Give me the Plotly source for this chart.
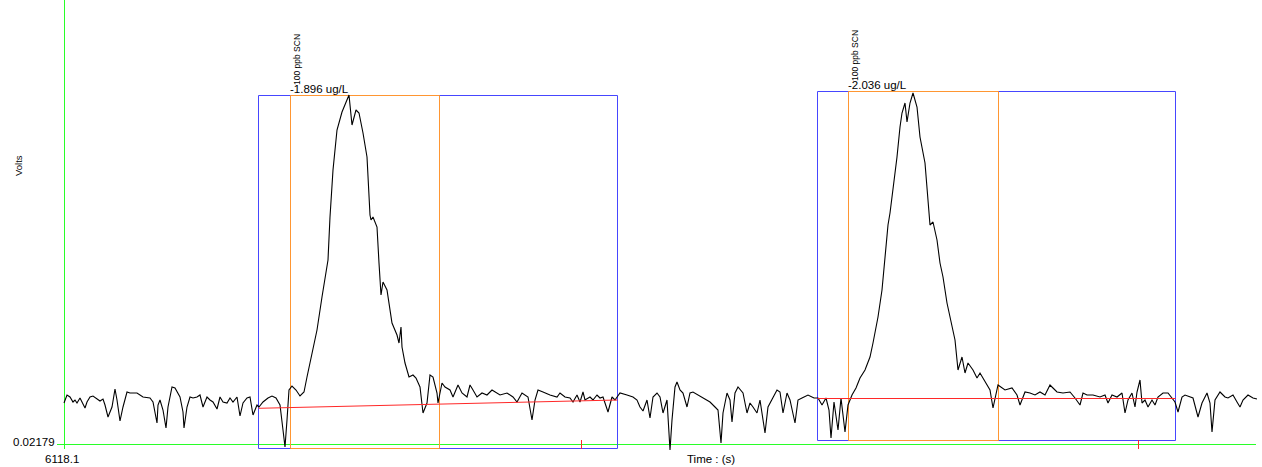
import plotly.graph_objects as go

# ---------------- data ----------------
T0 = 6118.1          # time at the left end of the axis (s)
V0 = 0.02179         # volts at the bottom of the axis

# elapsed time (s, from T0) and detector signal (uV above V0)
time_s = [
    0, 3, 6, 9, 11, 13, 16, 18, 21, 23,
    26, 29, 33, 36, 39, 41, 44, 48, 51, 53,
    56, 59, 63, 66, 73, 79, 86, 89, 93, 94,
    96, 99, 102, 104, 108, 111, 116, 119, 120, 123,
    126, 129, 133, 136, 139, 143, 146, 149, 153, 156,
    159, 163, 166, 169, 173, 176, 179, 183, 186, 189,
    191, 193, 195, 199, 204, 208, 212, 216, 219, 221,
    223, 225, 228, 232, 236, 240, 243, 248, 253, 258,
    264, 266, 269, 273, 278, 285, 288, 292, 295, 299,
    303, 306, 307, 309, 313, 315, 317, 319, 323, 328,
    333, 335, 337, 338, 341, 345, 349, 352, 356, 359,
    363, 366, 369, 373, 374, 378, 381, 386, 389, 394,
    398, 403, 406, 409, 413, 418, 423, 428, 433, 436,
    443, 449, 453, 458, 464, 468, 471, 474, 479, 486,
    493, 496, 501, 506, 509, 513, 516, 519, 521, 526,
    529, 533, 536, 539, 544, 548, 551, 556, 563, 569,
    573, 576, 579, 583, 586, 589, 593, 596, 599, 603,
    606, 608, 611, 613, 616, 619, 623, 626, 629, 634,
    639, 646, 651, 654, 657, 659, 663, 666, 668, 671,
    674, 679, 683, 686, 689, 693, 696, 701, 704, 708,
    713, 716, 719, 723, 726, 731, 734, 738, 744, 750,
    754, 758, 762, 765, 767, 770, 774, 777, 781, 784,
    788, 792, 796, 801, 806, 809, 814, 818, 821, 824,
    826, 829, 833, 836, 838, 841, 843, 846, 849, 853,
    856, 861, 864, 866, 869, 871, 873, 876, 879, 883,
    888, 891, 894, 898, 901, 904, 909, 913, 916, 921,
    926, 929, 934, 941, 948, 953, 956, 961, 966, 971,
    976, 981, 986, 989, 993, 999, 1006, 1011, 1016, 1019,
    1023, 1029, 1036, 1041, 1044, 1048, 1053, 1058, 1061, 1064,
    1068, 1071, 1073, 1076, 1078, 1081, 1084, 1088, 1091, 1094,
    1099, 1104, 1108, 1111, 1114, 1118, 1121, 1126, 1129, 1134,
    1138, 1143, 1146, 1148, 1151, 1156, 1161, 1164, 1169, 1173,
    1176, 1179, 1184, 1189, 1193,
]
signal_uv = [
    41, 49, 47, 42, 44, 41, 46, 42, 36, 42,
    47, 48, 45, 43, 45, 39, 27, 37, 55, 44,
    23, 37, 52, 51, 51, 47, 46, 42, 21, 39,
    44, 34, 16, 37, 57, 56, 47, 32, 16, 37,
    47, 46, 47, 49, 37, 47, 44, 42, 35, 47,
    42, 41, 46, 42, 47, 28, 41, 46, 47, 29,
    34, 39, 37, 42, 46, 48, 46, 39, 14, -3,
    24, 54, 58, 54, 48, 52, 67, 91, 114, 147,
    184, 227, 274, 314, 332, 349, 319, 334, 331, 311,
    287, 229, 224, 227, 217, 181, 149, 162, 154, 121,
    109, 101, 117, 97, 81, 67, 69, 66, 57, 31,
    41, 69, 67, 51, 41, 61, 57, 54, 47, 59,
    51, 47, 59, 54, 47, 51, 49, 54, 51, 49,
    51, 47, 42, 51, 47, 24, 44, 54, 52, 49,
    47, 51, 47, 46, 42, 49, 42, 52, 44, 47,
    44, 49, 46, 47, 32, 47, 44, 51, 49, 47,
    44, 37, 33, 44, 26, 47, 51, 47, 31, 44,
    -6, 24, 57, 62, 54, 51, 37, 51, 52, 49,
    46, 42, 37, 34, 1, 31, 51, 44, 22, 51,
    57, 51, 31, 41, 37, 31, 44, 11, 37, 44,
    54, 52, 31, 51, 44, 21, 44, 46, 49, 46,
    46, 39, 46, 34, 6, 42, 14, 46, 12, 39,
    49, 56, 66, 74, 87, 101, 127, 154, 191, 219,
    231, 254, 287, 317, 331, 341, 322, 341, 351, 337,
    307, 281, 241, 219, 222, 214, 204, 181, 167, 141,
    117, 104, 74, 87, 71, 81, 74, 66, 71, 62,
    54, 36, 59, 54, 56, 49, 39, 52, 51, 49,
    52, 49, 59, 56, 52, 51, 52, 46, 39, 51,
    49, 49, 47, 49, 41, 49, 47, 51, 31, 44,
    51, 37, 52, 64, 41, 44, 37, 44, 39, 47,
    51, 51, 46, 42, 32, 47, 49, 47, 46, 27,
    41, 51, 41, 12, 44, 52, 47, 46, 49, 42,
    37, 44, 49, 46, 45,
]
assert len(time_s) == len(signal_uv)

# peak windows (blue), integration windows (orange), baselines (red)
peak_labels = ["100 ppb SCN", "100 ppb SCN"]
conc_labels = ["-1.896 ug/L", "-2.036 ug/L"]
win_start = [194.5, 753.5]
win_end = [553.5, 1111.5]
win_top = [348.5, 352.5]
win_bottom = [-4.5, 3.5]
int_start = [226.5, 784.5]
int_end = [375.5, 934.5]
base_start = [35.7, 45.5]
base_end = [44.0, 45.5]
marker_time = [517.5, 1074.5]

# axis labels
y_label = "Volts"
x_label = "Time : (s)"
y_tick = f"{V0:.5f}"
x_tick = f"{T0:.1f}"

# ---------------- styling ----------------
GREEN = "rgb(40,255,40)"
BLUE = "rgb(70,70,255)"
ORANGE = "rgb(255,150,50)"
RED = "rgb(255,40,40)"
FONT = "Liberation Sans, Arial, sans-serif"

fig = go.Figure()

shapes = []
# axis lines
shapes.append(dict(type="line", xref="x", yref="y", x0=-7, x1=1192, y0=-0.5, y1=-0.5,
                   line=dict(color=GREEN, width=1), layer="below"))
shapes.append(dict(type="line", xref="x", yref="y", x0=0.5, x1=0.5, y0=-5, y1=460,
                   line=dict(color=GREEN, width=1), layer="below"))

for i in range(len(win_start)):
    shapes.append(dict(type="rect", xref="x", yref="y",
                       x0=win_start[i], x1=win_end[i], y0=win_bottom[i], y1=win_top[i],
                       line=dict(color=BLUE, width=1), fillcolor="rgba(0,0,0,0)", layer="below"))
    shapes.append(dict(type="rect", xref="x", yref="y",
                       x0=int_start[i], x1=int_end[i], y0=win_bottom[i], y1=win_top[i],
                       line=dict(color=ORANGE, width=1), fillcolor="rgba(0,0,0,0)", layer="below"))
    shapes.append(dict(type="line", xref="x", yref="y",
                       x0=win_start[i], x1=win_end[i], y0=base_start[i], y1=base_end[i],
                       line=dict(color=RED, width=1), layer="above"))
    shapes.append(dict(type="line", xref="x", yref="y",
                       x0=marker_time[i], x1=marker_time[i], y0=4, y1=-5,
                       line=dict(color=RED, width=1), layer="above"))

fig.add_trace(go.Scatter(x=time_s, y=signal_uv, mode="lines",
                         line=dict(color="black", width=1.1), hoverinfo="skip",
                         showlegend=False))

annotations = []
for i in range(len(win_start)):
    annotations.append(dict(x=int_start[i] + 6, y=win_top[i] + 36, xref="x", yref="y",
                            text=peak_labels[i], textangle=-90, showarrow=False,
                            font=dict(family=FONT, size=8.5, color="black"),
                            xanchor="center", yanchor="middle"))
    annotations.append(dict(x=int_start[i] - 2.5, y=win_top[i] + 6.5, xref="x", yref="y",
                            text=conc_labels[i], showarrow=False,
                            font=dict(family=FONT, size=11.5, color="black"),
                            xanchor="left", yanchor="middle"))

annotations += [
    dict(x=-46, y=278, xref="x", yref="y", text=y_label, textangle=-90, showarrow=False,
         font=dict(family=FONT, size=9.5, color="black"), xanchor="center", yanchor="middle"),
    dict(x=-7, y=2, xref="x", yref="y", text=y_tick, showarrow=False,
         font=dict(family=FONT, size=11.5, color="black"), xanchor="right", yanchor="middle"),
    dict(x=-2, y=-15, xref="x", yref="y", text=x_tick, showarrow=False,
         font=dict(family=FONT, size=11.5, color="black"), xanchor="center", yanchor="middle"),
    dict(x=647, y=-15, xref="x", yref="y", text=x_label, showarrow=False,
         font=dict(family=FONT, size=11.5, color="black"), xanchor="center", yanchor="middle"),
]

fig.update_layout(
    width=1262, height=467,
    margin=dict(l=0, r=0, t=0, b=0),
    paper_bgcolor="white", plot_bgcolor="white",
    xaxis=dict(range=[-64, 1198], visible=False, fixedrange=True),
    yaxis=dict(range=[-23, 444], visible=False, fixedrange=True),
    shapes=shapes, annotations=annotations,
    showlegend=False,
)

fig.write_html("out.html", config={"displayModeBar": False})
